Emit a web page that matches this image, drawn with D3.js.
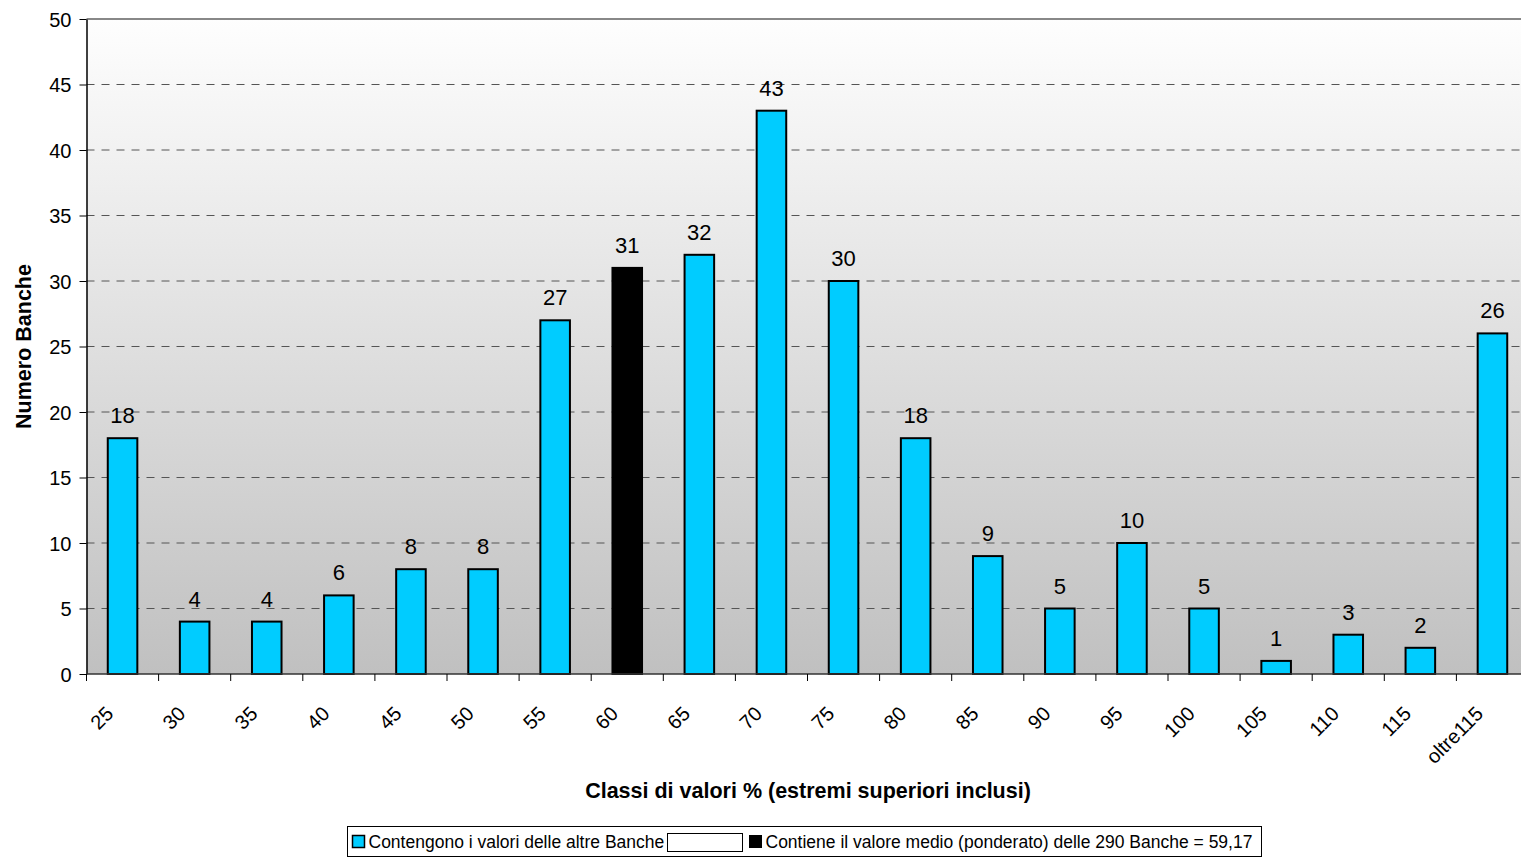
<!DOCTYPE html>
<html>
<head>
<meta charset="utf-8">
<script src="https://cdn.jsdelivr.net/npm/d3@7"></script>
<style>
    body { margin: 0; background: #fff; }
    text { font-family: 'Liberation Sans', Arial, sans-serif; fill: #000; }
</style>
</head>
<body>
<svg id="chart" width="1521" height="858"></svg>
<script>
// Classes (upper bound included) and number of banks in each
const categories = ['25', '30', '35', '40', '45', '50', '55', '60', '65', '70',
    '75', '80', '85', '90', '95', '100', '105', '110', '115', 'oltre115'];
const counts = [18, 4, 4, 6, 8, 8, 27, 31, 32, 43, 30, 18, 9, 5, 10, 5, 1, 3, 2, 26];
const meanClass = '60';
const yTicks = [0, 5, 10, 15, 20, 25, 30, 35, 40, 45, 50];
const legendLabels = ['Contengono i valori delle altre Banche',
    'Contiene il valore medio (ponderato) delle 290 Banche = 59,17'];

const svg = d3.select('#chart');
const margin = { left: 86.5, right: 0, top: 19, bottom: 184 };
const width = +svg.attr('width'), height = +svg.attr('height');
const innerW = width - margin.left - margin.right;
const innerH = height - margin.top - margin.bottom;

// The original plot is wider than the window and gets cut on the right
const plotW = 72.1 * categories.length;

const x = d3.scaleBand().domain(categories).range([0, plotW]).paddingInner(0.59).paddingOuter(0.295);
const xTicks = d3.scaleBand().domain(categories).range([0, plotW]);
const y = d3.scaleLinear().domain([0, 50]).range([innerH, 0]);

// Plot background: light gradient from top to bottom
const grad = svg.append('defs').append('linearGradient')
    .attr('id', 'bg').attr('x1', 0).attr('y1', 0).attr('x2', 0).attr('y2', 1);
grad.append('stop').attr('offset', '0%').attr('stop-color', '#fefefe');
grad.append('stop').attr('offset', '100%').attr('stop-color', '#c0c0c0');

const g = svg.append('g').attr('transform', `translate(${margin.left},${margin.top})`);
g.append('rect').attr('width', innerW).attr('height', innerH).attr('fill', 'url(#bg)');

// Dashed gridlines
g.selectAll('line.grid').data(yTicks.filter(d => d > 0 && d < 50)).enter().append('line')
    .attr('class', 'grid')
    .attr('x1', 0).attr('x2', innerW)
    .attr('y1', d => y(d)).attr('y2', d => y(d))
    .attr('stroke', '#555').attr('stroke-width', 1).attr('stroke-dasharray', '8,7');
g.append('line').attr('x1', 0).attr('x2', innerW).attr('y1', y(50)).attr('y2', y(50))
    .attr('stroke', '#888').attr('stroke-width', 2);

// Bars
g.selectAll('rect.bar').data(categories).enter().append('rect')
    .attr('class', 'bar')
    .attr('x', d => x(d))
    .attr('y', (d, i) => y(counts[i]))
    .attr('width', x.bandwidth())
    .attr('height', (d, i) => innerH - y(counts[i]))
    .attr('fill', d => d === meanClass ? '#000' : '#00ccff')
    .attr('stroke', '#000').attr('stroke-width', 2);

// Value labels
g.selectAll('text.val').data(categories).enter().append('text')
    .attr('class', 'val')
    .attr('x', d => x(d) + x.bandwidth() / 2)
    .attr('y', (d, i) => y(counts[i]) - 15)
    .attr('text-anchor', 'middle')
    .attr('font-size', 22)
    .text((d, i) => counts[i]);

// Y axis
const yAxis = d3.axisLeft(y).tickValues(yTicks).tickSize(7).tickPadding(8).tickSizeOuter(0);
const yG = g.append('g').call(yAxis);
yG.select('.domain').attr('stroke', '#000').attr('stroke-width', 1.5);
yG.selectAll('.tick line').attr('stroke', '#000');
yG.selectAll('.tick text').attr('font-size', 20).attr('font-family', null).attr('dy', '0.35em');

// X axis
g.append('line').attr('x1', 0).attr('x2', innerW).attr('y1', innerH).attr('y2', innerH)
    .attr('stroke', '#333').attr('stroke-width', 1.5);
g.selectAll('line.xtick').data(categories).enter().append('line')
    .attr('class', 'xtick')
    .attr('x1', d => xTicks(d)).attr('x2', d => xTicks(d))
    .attr('y1', innerH).attr('y2', innerH + 7)
    .attr('stroke', '#000');
g.selectAll('text.xlab').data(categories).enter().append('text')
    .attr('class', 'xlab')
    .attr('transform', d => `translate(${xTicks(d) + xTicks.bandwidth() / 2 - 8},${innerH + 41}) rotate(-45)`)
    .attr('text-anchor', 'end')
    .attr('font-size', 20)
    .text(d => d);

// Axis titles
svg.append('text')
    .attr('transform', `translate(31,${margin.top + innerH / 2}) rotate(-90)`)
    .attr('text-anchor', 'middle').attr('font-size', 21.5).attr('font-weight', 'bold')
    .text('Numero Banche');
svg.append('text')
    .attr('x', 808).attr('y', 798)
    .attr('text-anchor', 'middle').attr('font-size', 21.5).attr('font-weight', 'bold')
    .text('Classi di valori % (estremi superiori inclusi)');

// Legend
const lg = svg.append('g').attr('transform', 'translate(347.5,826.5)');
lg.append('rect').attr('width', 914).attr('height', 30).attr('fill', '#fff').attr('stroke', '#000');
lg.append('rect').attr('x', 5).attr('y', 9).attr('width', 12).attr('height', 12)
    .attr('fill', '#00ccff').attr('stroke', '#000').attr('stroke-width', 1.5);
lg.append('text').attr('x', 21).attr('y', 21.5).attr('font-size', 17.5).text(legendLabels[0]);
lg.append('rect').attr('x', 320).attr('y', 7).attr('width', 75).attr('height', 18)
    .attr('fill', '#fff').attr('stroke', '#000');
lg.append('rect').attr('x', 402).attr('y', 9).attr('width', 12).attr('height', 12)
    .attr('fill', '#000').attr('stroke', '#000');
lg.append('text').attr('x', 418).attr('y', 21.5).attr('font-size', 17.5).text(legendLabels[1]);
</script>
</body>
</html>
